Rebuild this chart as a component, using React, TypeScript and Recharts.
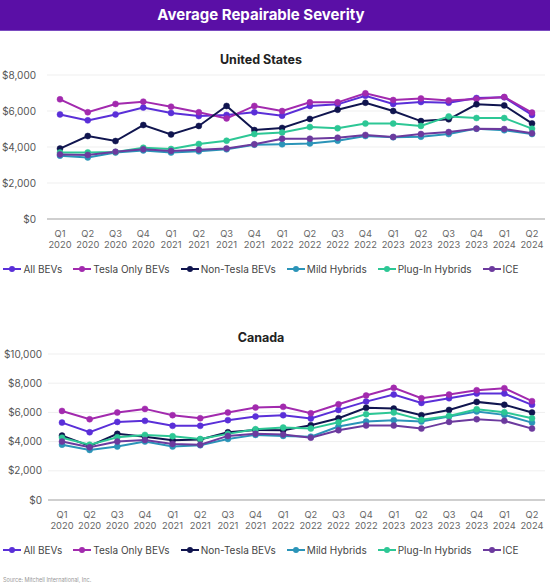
import React from 'react';
import { LineChart, Line, XAxis, YAxis, CartesianGrid } from 'recharts';

const quarters = [
  'Q1 2020', 'Q2 2020', 'Q3 2020', 'Q4 2020',
  'Q1 2021', 'Q2 2021', 'Q3 2021', 'Q4 2021',
  'Q1 2022', 'Q2 2022', 'Q3 2022', 'Q4 2022',
  'Q1 2023', 'Q2 2023', 'Q3 2023', 'Q4 2023',
  'Q1 2024', 'Q2 2024',
];

const seriesNames = ['All BEVs', 'Tesla Only BEVs', 'Non-Tesla BEVs', 'Mild Hybrids', 'Plug-In Hybrids', 'ICE'];
const seriesColors = ['#5A2FD8', '#A22AAE', '#10154F', '#2B94B8', '#2DC795', '#6C3A9E'];

// United States
const usAllBEVs = [5810, 5480, 5810, 6190, 5890, 5720, 5780, 5930, 5740, 6280, 6370, 6850, 6390, 6500, 6460, 6720, 6760, 5780];
const usTesla = [6650, 5930, 6390, 6520, 6240, 5930, 5590, 6280, 6000, 6480, 6480, 6980, 6610, 6700, 6590, 6670, 6780, 5910];
const usNonTesla = [3910, 4610, 4330, 5220, 4700, 5170, 6280, 4940, 5060, 5560, 6070, 6460, 6000, 5440, 5540, 6370, 6310, 5310];
const usMild = [3520, 3420, 3690, 3810, 3690, 3760, 3870, 4130, 4150, 4200, 4350, 4610, 4540, 4570, 4720, 5020, 4930, 4720];
const usPlugIn = [3690, 3700, 3720, 3960, 3890, 4170, 4350, 4720, 4800, 5110, 5040, 5300, 5300, 5170, 5700, 5610, 5610, 5020];
const usICE = [3590, 3560, 3740, 3870, 3780, 3850, 3920, 4150, 4460, 4460, 4520, 4670, 4560, 4720, 4830, 5020, 5000, 4760];

// Canada
const caAllBEVs = [5300, 4640, 5350, 5420, 5080, 5080, 5470, 5720, 5810, 5580, 6170, 6740, 7220, 6650, 6970, 7290, 7290, 6520];
const caTesla = [6100, 5530, 5990, 6240, 5810, 5600, 5990, 6330, 6380, 5940, 6560, 7160, 7680, 6970, 7220, 7520, 7660, 6770];
const caNonTesla = [4410, 3700, 4530, 4340, 4090, 4140, 4640, 4800, 4780, 5120, 5600, 6310, 6260, 5810, 6170, 6720, 6520, 5990];
const caMild = [3790, 3430, 3660, 4000, 3660, 3750, 4180, 4460, 4390, 4340, 5030, 5370, 5470, 5370, 5720, 6060, 5830, 5300];
const caPlugIn = [4270, 3790, 4300, 4460, 4370, 4180, 4530, 4850, 4960, 4890, 5330, 5880, 5990, 5490, 5760, 6220, 6010, 5600];
const caICE = [4000, 3610, 4000, 4110, 3840, 3790, 4390, 4530, 4480, 4270, 4780, 5100, 5100, 4890, 5350, 5530, 5420, 4890];

const usTicks = [0, 2000, 4000, 6000, 8000];
const caTicks = [0, 2000, 4000, 6000, 8000, 10000];

const keys = ['s0', 's1', 's2', 's3', 's4', 's5'];

function buildRows(series: number[][]) {
  return quarters.map((q, i) => {
    const row: Record<string, any> = { q };
    series.forEach((s, k) => {
      row[keys[k]] = s[i];
    });
    return row;
  });
}

const usData = buildRows([usAllBEVs, usTesla, usNonTesla, usMild, usPlugIn, usICE]);
const caData = buildRows([caAllBEVs, caTesla, caNonTesla, caMild, caPlugIn, caICE]);

const FONT = 'Inter, "Noto Sans", sans-serif';

const money = (v: number) => '$' + v.toLocaleString('en-US');

const QuarterTick = (props: any) => {
  const { x, y, payload } = props;
  const [a, b] = String(payload.value).split(' ');
  return (
    <text x={x} y={y} textAnchor="middle" fill="#666" fontSize={9.3} fontFamily={FONT}>
      <tspan x={x} dy={17.5}>{a}</tspan>
      <tspan x={x} dy={11.3}>{b}</tspan>
    </text>
  );
};

const LegendRow = ({ top }: { top: number }) => (
  <div
    style={{
      position: 'absolute',
      top,
      left: 0,
      width: 522,
      display: 'flex',
      justifyContent: 'center',
      alignItems: 'center',
      gap: 11,
      fontSize: 10,
      color: '#444',
      fontFamily: FONT,
    }}
  >
    {seriesNames.map((n, i) => (
      <div key={n} style={{ display: 'flex', alignItems: 'center', gap: 2 }}>
        <svg width={18} height={8}>
          <line x1={0} y1={4} x2={18} y2={4} stroke={seriesColors[i]} strokeWidth={2} />
          <circle cx={9} cy={4} r={3} fill={seriesColors[i]} />
        </svg>
        <span>{n}</span>
      </div>
    ))}
  </div>
);

const Chart = ({ data, ticks, max, yWidth, yMargin, padL, padR, height }: any) => (
  <LineChart width={550} height={height} data={data} margin={{ top: 10, right: 5, left: 0, bottom: 0 }}>
    <CartesianGrid vertical={false} stroke="#EFEFEF" strokeWidth={1} />
    <XAxis
      dataKey="q"
      interval={0}
      height={40}
      tick={<QuarterTick />}
      tickLine={false}
      tickSize={0}
      tickMargin={0}
      axisLine={{ stroke: '#CFCFCF', strokeWidth: 2 }}
      padding={{ left: padL, right: padR }}
    />
    <YAxis
      width={yWidth}
      domain={[0, max]}
      ticks={ticks}
      tickFormatter={money}
      axisLine={false}
      tickLine={false}
      tickSize={0}
      tickMargin={yMargin}
      tick={{ fill: '#555', fontSize: 10, fontFamily: FONT }}
    />
    {keys.map((k, i) => (
      <Line
        key={k}
        type="linear"
        dataKey={k}
        name={seriesNames[i]}
        stroke={seriesColors[i]}
        strokeWidth={2}
        dot={{ r: 3, fill: seriesColors[i], stroke: seriesColors[i], strokeWidth: 0.5 }}
        activeDot={false}
        isAnimationActive={false}
      />
    ))}
  </LineChart>
);

export default function App() {
  return (
    <div
      style={{
        position: 'absolute',
        left: 0,
        top: 0,
        width: 550,
        height: 587,
        background: '#fff',
        fontFamily: FONT,
        overflow: 'hidden',
      }}
    >
      <div
        style={{
          position: 'absolute',
          top: 0,
          left: 0,
          width: 550,
          height: 30,
          background: '#5A0FA6',
          borderBottom: '1px solid #7B4BC0',
        }}
      >
        <div
          style={{
            width: 522,
            textAlign: 'center',
            color: '#fff',
            fontWeight: 700,
            fontSize: 15,
            lineHeight: '30px',
          }}
        >
          Average Repairable Severity
        </div>
      </div>

      <div
        style={{
          position: 'absolute',
          top: 52,
          left: 0,
          width: 522,
          textAlign: 'center',
          fontWeight: 700,
          fontSize: 12.5,
          color: '#222',
          lineHeight: '16px',
        }}
      >
        United States
      </div>
      <div style={{ position: 'absolute', top: 65, left: 0 }}>
        <Chart data={usData} ticks={usTicks} max={8000} yWidth={47} yMargin={11} padL={13} padR={13} height={194} />
      </div>
      <LegendRow top={263} />

      <div
        style={{
          position: 'absolute',
          top: 330,
          left: 0,
          width: 522,
          textAlign: 'center',
          fontWeight: 700,
          fontSize: 12.5,
          color: '#222',
          lineHeight: '16px',
        }}
      >
        Canada
      </div>
      <div style={{ position: 'absolute', top: 344, left: 0 }}>
        <Chart data={caData} ticks={caTicks} max={10000} yWidth={48} yMargin={6} padL={14} padR={13} height={196} />
      </div>
      <LegendRow top={544} />

      <div
        style={{
          position: 'absolute',
          top: 576,
          left: 3,
          fontSize: 5.5,
          color: '#999',
          lineHeight: '8px',
        }}
      >
        Source: Mitchell International, Inc.
      </div>
    </div>
  );
}
